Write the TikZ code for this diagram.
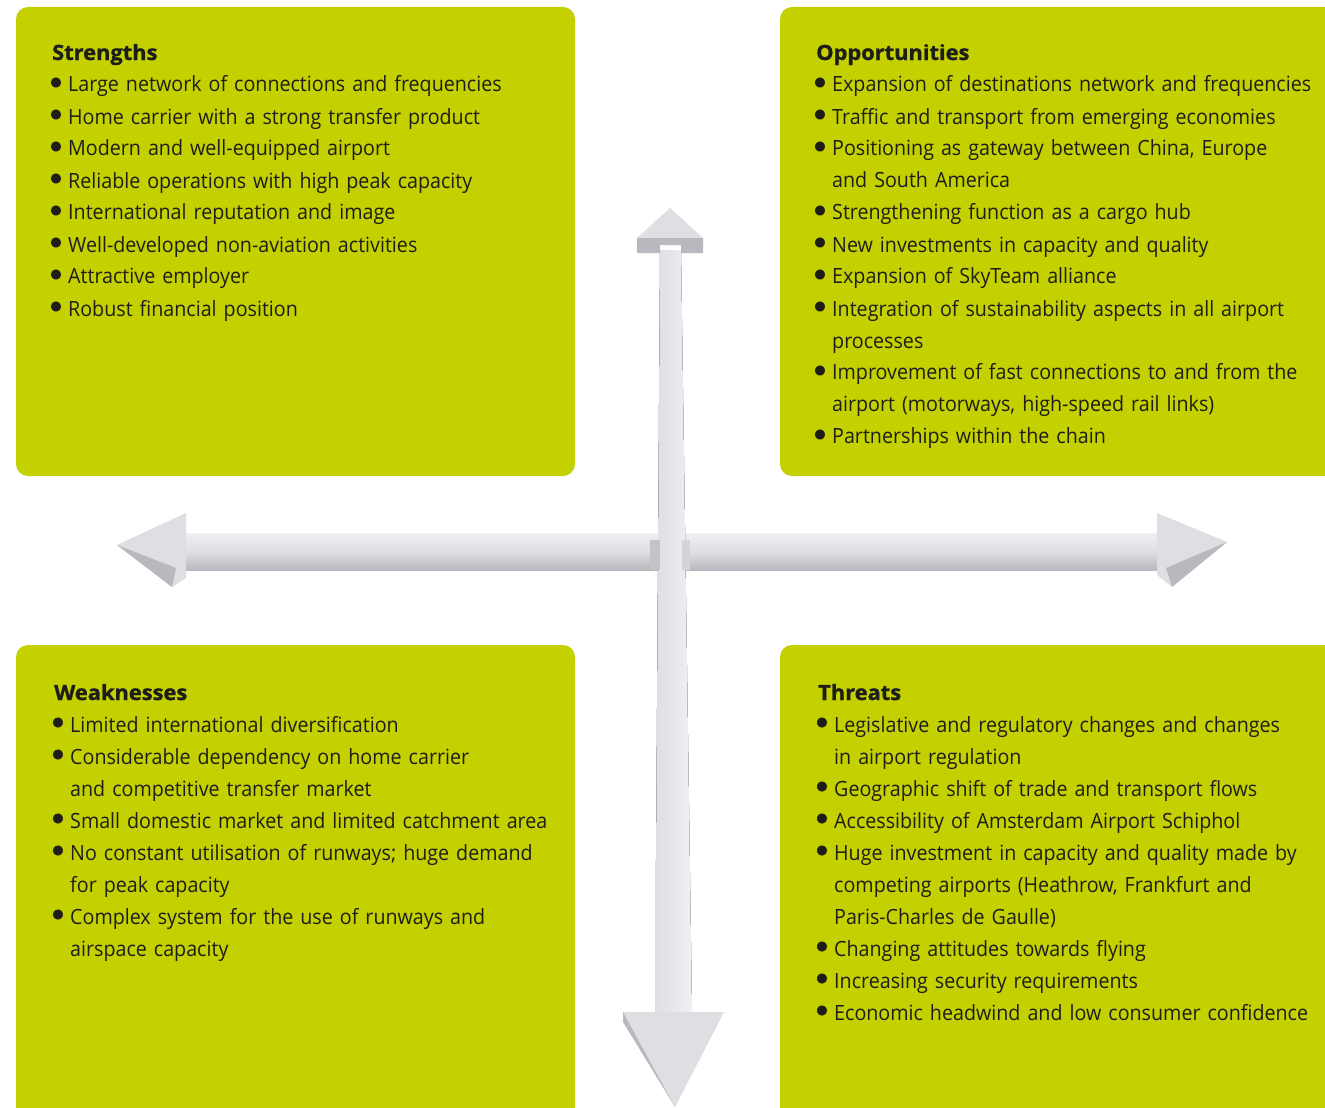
\documentclass[tikz,border=0pt]{standalone}
\usepackage{fontspec}
\setmainfont{Open Sans}[FakeStretch=0.937]
\newfontfamily\headfont{Open Sans}[FakeStretch=1.04, BoldFeatures={FakeBold=1.2}]
\hyphenpenalty=10000\relax
\definecolor{swotgreen}{RGB}{196,208,0}
\definecolor{swottext}{RGB}{30,30,25}
\definecolor{arrowlight}{RGB}{240,240,243}
\definecolor{arrowmid}{RGB}{222,222,227}
\definecolor{arrowdark}{RGB}{184,184,190}
\newcommand{\bul}{\makebox[16pt][l]{\hspace*{-2.5pt}\raisebox{2.4pt}{\scalebox{1.25}{$\bullet$}}}}
\newcommand{\ind}{\hspace*{16pt}}
\newcommand{\head}[1]{{\headfont\bfseries #1}}
\tikzset{
	swotbox/.style = {fill = swotgreen, rounded corners = 12pt},
	swotlist/.style = {anchor = base west, inner sep = 0pt, text width = 700pt, align = left, text = swottext, font = \fontsize{21}{32}\selectfont},
	hshaft/.style = {top color = arrowlight, bottom color = arrowdark, middle color = arrowmid},
	vshaft/.style = {left color = arrowmid, right color = arrowlight},
	headface/.style = {fill = arrowmid},
	headside/.style = {fill = arrowdark}
}
\begin{document}
\begin{tikzpicture}[x = 1pt, y = -1pt]
\clip (0,0) rectangle (1325,1108);
\fill[white] (0,0) rectangle (1325,1108);

% four boxes
\fill[swotbox] (16,7) rectangle (575,476);
\fill[swotbox] (780,7) rectangle (1345,476);
\fill[swotbox] (16,645) rectangle (575,1130);
\fill[swotbox] (780,645) rectangle (1345,1130);

% horizontal arrow
\fill[hshaft] (180,533) rectangle (1162,570);
\fill[headface] (117,545) -- (186,513) -- (186,578) -- (172,587) -- cycle;
\fill[headside] (117,545) -- (172,587) -- (176,568) -- cycle;
\fill[headface] (1227,542) -- (1157,513) -- (1157,575) -- (1172,587) -- cycle;
\fill[headside] (1227,542) -- (1172,587) -- (1166,568) -- cycle;

% vertical arrow
\fill[vshaft] (660,250) -- (681,250) -- (692,1012) -- (655,1012) -- cycle;
\fill[arrowdark!85] (650,540) rectangle (660,570);
\fill[arrowdark!60] (682,540) rectangle (690,570);
\fill[headface] (670,208) -- (703,238) -- (637,238) -- cycle;
\fill[headside] (637,238) -- (703,238) -- (703,253) -- (681,253) -- (681,245) -- (660,245) -- (660,253) -- (637,253) -- cycle;
\fill[headface] (623,1012) -- (724,1012) -- (675,1107) -- cycle;
\fill[headside] (623,1012) -- (623,1022) -- (675,1107) -- cycle;

\node[swotlist] (strengths) at (52,60) {\head{Strengths}\\
\bul Large network of connections and frequencies\\
\bul Home carrier with a strong transfer product\\
\bul Modern and well-equipped airport\\
\bul Reliable operations with high peak capacity\\
\bul International reputation and image\\
\bul Well-developed non-aviation activities\\
\bul Attractive employer\\
\bul Robust financial position};

\node[swotlist] (opportunities) at (816,60) {\head{Opportunities}\\
\bul Expansion of destinations network and frequencies\\
\bul Traffic and transport from emerging economies\\
\bul Positioning as gateway between China, Europe\\
\ind and South America\\
\bul Strengthening function as a cargo hub\\
\bul New investments in capacity and quality\\
\bul Expansion of SkyTeam alliance\\
\bul Integration of sustainability aspects in all airport\\
\ind processes\\
\bul Improvement of fast connections to and from the\\
\ind airport (motorways, high-speed rail links)\\
\bul Partnerships within the chain};

\node[swotlist] (weaknesses) at (54,700) {\head{Weaknesses}\\
\bul Limited international diversification\\
\bul Considerable dependency on home carrier\\
\ind and competitive transfer market\\
\bul Small domestic market and limited catchment area\\
\bul No constant utilisation of runways; huge demand\\
\ind for peak capacity\\
\bul Complex system for the use of runways and\\
\ind airspace capacity};

\node[swotlist] (threats) at (818,700) {\head{Threats}\\
\bul Legislative and regulatory changes and changes\\
\ind in airport regulation\\
\bul Geographic shift of trade and transport flows\\
\bul Accessibility of Amsterdam Airport Schiphol\\
\bul Huge investment in capacity and quality made by\\
\ind competing airports (Heathrow, Frankfurt and\\
\ind Paris-Charles de Gaulle)\\
\bul Changing attitudes towards flying\\
\bul Increasing security requirements\\
\bul Economic headwind and low consumer confidence};
\end{tikzpicture}
\end{document}
